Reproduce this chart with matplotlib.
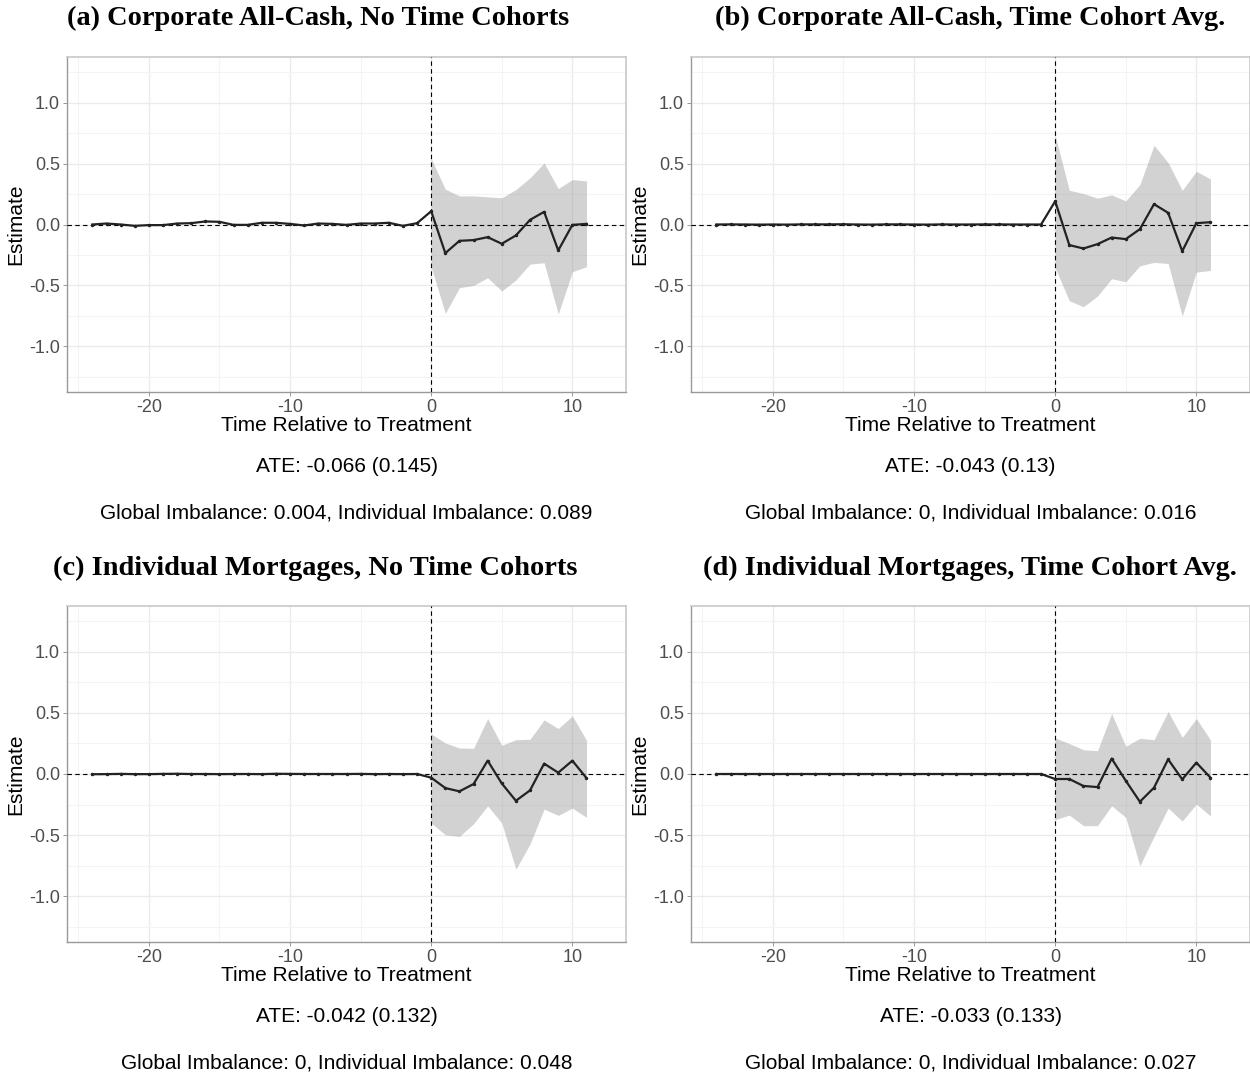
import numpy as np
import matplotlib.pyplot as plt
from matplotlib.ticker import MultipleLocator

# event time
t = list(range(-24, 12))
t_post = list(range(0, 12))

# point estimates, pre-period then post-period
est_a = [0.0, 0.008, 0.0, -0.011, -0.005, -0.005, 0.008, 0.011, 0.025, 0.022, -0.003, -0.003,
         0.014, 0.014, 0.005, -0.008, 0.008, 0.005, -0.003, 0.008, 0.008, 0.014, -0.011, 0.011,
         0.109, -0.235, -0.134, -0.128, -0.104, -0.158, -0.09, 0.038, 0.104, -0.213, -0.003, 0.005]
est_b = [0.0, 0.001, 0.0, -0.001, 0.0, -0.001, 0.001, 0.001, 0.001, 0.002, 0.0, -0.001,
         0.001, 0.001, 0.0, -0.001, 0.001, 0.0, 0.0, 0.001, 0.001, 0.0, 0.0, 0.0,
         0.191, -0.169, -0.197, -0.161, -0.107, -0.12, -0.038, 0.167, 0.096, -0.219, 0.011, 0.019]
est_c = [-0.002, -0.001, 0.001, -0.001, -0.001, 0.001, 0.002, 0.0, 0.0, -0.001, 0.0, 0.0,
         -0.001, 0.002, 0.001, 0.0, 0.0, 0.0, 0.0, 0.001, -0.001, 0.0, -0.001, 0.0,
         -0.03, -0.115, -0.142, -0.082, 0.109, -0.077, -0.219, -0.134, 0.085, 0.011, 0.109, -0.033]
est_d = [0.0, 0.0, 0.0, 0.0, 0.0, 0.0, 0.0, 0.0, 0.0, 0.0, 0.0, 0.0,
         0.0, 0.0, 0.0, 0.0, 0.0, 0.0, 0.0, 0.0, 0.0, 0.0, 0.0, 0.0,
         -0.041, -0.041, -0.098, -0.107, 0.126, -0.055, -0.227, -0.112, 0.12, -0.044, 0.093, -0.03]

# confidence band, post-period only
hi_a = [0.541, 0.29, 0.235, 0.235, 0.227, 0.219, 0.287, 0.383, 0.505, 0.295, 0.369, 0.358]
lo_a = [-0.347, -0.73, -0.519, -0.5, -0.437, -0.546, -0.456, -0.325, -0.314, -0.735, -0.388, -0.347]
hi_b = [0.73, 0.281, 0.254, 0.216, 0.243, 0.194, 0.328, 0.65, 0.508, 0.281, 0.437, 0.374]
lo_b = [-0.355, -0.626, -0.675, -0.587, -0.445, -0.47, -0.339, -0.311, -0.32, -0.751, -0.391, -0.377]
hi_c = [0.328, 0.254, 0.213, 0.21, 0.454, 0.235, 0.281, 0.284, 0.443, 0.372, 0.475, 0.276]
lo_c = [-0.402, -0.497, -0.511, -0.407, -0.26, -0.402, -0.779, -0.574, -0.287, -0.339, -0.279, -0.355]
hi_d = [0.295, 0.249, 0.199, 0.191, 0.495, 0.227, 0.292, 0.281, 0.511, 0.3, 0.454, 0.279]
lo_d = [-0.374, -0.336, -0.423, -0.423, -0.26, -0.355, -0.751, -0.511, -0.279, -0.385, -0.246, -0.344]

titles = ["(a) Corporate All-Cash, No Time Cohorts",
          "(b) Corporate All-Cash, Time Cohort Avg.",
          "(c) Individual Mortgages, No Time Cohorts",
          "(d) Individual Mortgages, Time Cohort Avg."]
ate_txt = ["ATE: -0.066 (0.145)", "ATE: -0.043 (0.13)",
           "ATE: -0.042 (0.132)", "ATE: -0.033 (0.133)"]
imb_txt = ["Global Imbalance: 0.004, Individual Imbalance: 0.089",
           "Global Imbalance: 0, Individual Imbalance: 0.016",
           "Global Imbalance: 0, Individual Imbalance: 0.048",
           "Global Imbalance: 0, Individual Imbalance: 0.027"]

ests = [est_a, est_b, est_c, est_d]
his = [hi_a, hi_b, hi_c, hi_d]
los = [lo_a, lo_b, lo_c, lo_d]

plt.rcParams['font.family'] = ['Liberation Sans', 'DejaVu Sans']
plt.rcParams['axes.unicode_minus'] = False

W, H = 1250, 1076
fig = plt.figure(figsize=(W / 100, H / 100), dpi=100)

# axes boxes in pixels: left, top, right, bottom
boxes = [(67, 57, 626, 392), (691, 57, 1250, 392),
         (67, 606, 626, 942), (691, 606, 1250, 942)]
title_x = [318, 970, 315, 970]
title_y = [18, 568]

for i in range(4):
    l, tp, r, b = boxes[i]
    ax = fig.add_axes([l / W, 1 - b / H, (r - l) / W, (b - tp) / H])
    ax.set_xlim(-25.8, 13.8)
    ax.set_ylim(-1.375, 1.375)
    ax.xaxis.set_major_locator(MultipleLocator(10))
    ax.xaxis.set_minor_locator(MultipleLocator(5))
    ax.yaxis.set_major_locator(MultipleLocator(0.5))
    ax.yaxis.set_minor_locator(MultipleLocator(0.25))
    ax.grid(which='major', color='#ebebeb', lw=1.0, zorder=0)
    ax.grid(which='minor', color='#f4f4f4', lw=0.8, zorder=0)
    ax.set_axisbelow(True)
    ax.yaxis.set_major_formatter(plt.FuncFormatter(lambda v, p: f"{v:.1f}"))
    ax.tick_params(which='major', length=3, width=0.7, color='#999999',
                   labelsize=13, labelcolor='#4d4d4d', pad=2)
    ax.tick_params(which='minor', length=0)
    for s in ['top', 'right']:
        ax.spines[s].set_color('#c8c8c8')
        ax.spines[s].set_linewidth(1.2)
    for s in ['left', 'bottom']:
        ax.spines[s].set_color('#999999')
        ax.spines[s].set_linewidth(1.0)

    ax.fill_between(t_post, los[i], his[i], color='grey', alpha=0.35, lw=0, zorder=2)
    ax.axhline(0, color='black', ls=(0, (4, 3)), lw=0.8, zorder=3)
    ax.axvline(0, color='black', ls=(0, (4, 3)), lw=0.8, zorder=3)
    ax.plot(t, ests[i], color='#222222', lw=1.6, marker='o', ms=1.5, zorder=4)

    ax.set_xlabel("Time Relative to Treatment", fontsize=15, labelpad=0)
    ax.set_ylabel("Estimate", fontsize=15, labelpad=3)

    cx = (l + r) / 2
    fig.text(title_x[i] / W, 1 - title_y[i // 2] / H, titles[i],
             family=['Liberation Serif', 'DejaVu Serif'], weight='bold',
             fontsize=20.4, ha='center', va='center')
    fig.text(cx / W, 1 - (b + 75) / H, ate_txt[i], fontsize=15,
             ha='center', va='center')
    fig.text(cx / W, 1 - (b + 121) / H, imb_txt[i], fontsize=15,
             ha='center', va='center')

fig.savefig("out.png", dpi=100)
